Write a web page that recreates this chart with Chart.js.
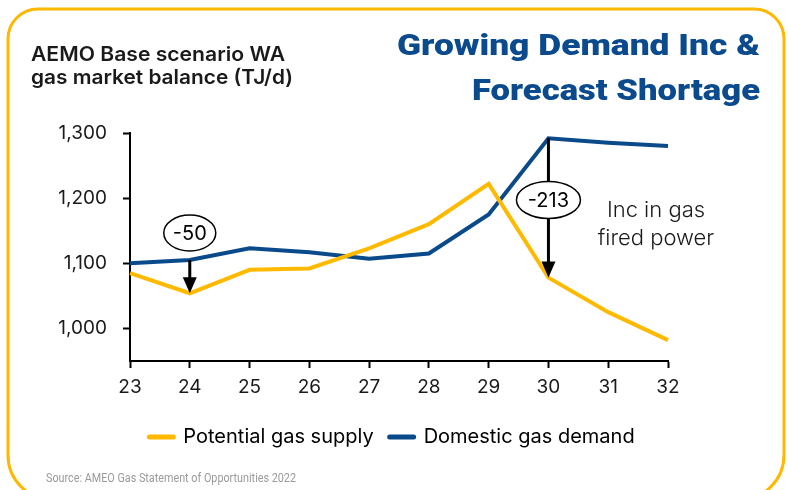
<!DOCTYPE html>
<html>
<head>
<meta charset="utf-8">
<script src="https://cdn.jsdelivr.net/npm/chart.js@4"></script>
<style>
  html,body{margin:0;padding:0;background:#fff;}
  #wrap{width:788px;height:490px;}
</style>
</head>
<body>
<div id="wrap"><canvas id="c" width="788" height="490"></canvas></div>
<script>
// valores (TJ/d)
const years = ['23','24','25','26','27','28','29','30','31','32'];
const supply = [1085,1054,1090,1092,1123,1160,1222,1078,1025,982];
const demand = [1100,1105,1123,1117,1107,1115,1175,1292,1285,1280];
const yTicks = [1000,1100,1200,1300];
const seriesNames = ['Potential gas supply','Domestic gas demand'];
const gapLabels = ['-50','-213'];
const gapAt = [1,7];

const YELLOW = '#FFBA00';
const BLUE = '#0A4A8A';
const TXT = '#1a1a1a';

// dibuja texto estirado/comprimido al ancho medido en la imagen
function fitText(ctx, t, x, y, w, font, align){
  ctx.save();
  ctx.font = font;
  const m = ctx.measureText(t).width;
  ctx.translate(x, y);
  ctx.scale(w / m, 1);
  ctx.textAlign = align;
  ctx.fillText(t, 0, 0);
  ctx.restore();
}

const deco = {
  id: 'deco',
  afterLayout(chart){
    // la leyenda original esta un poco a la izquierda del centro del area
    chart.legend.left -= 7;
    chart.legend.right -= 7;
  },
  beforeDraw(chart){
    const ctx = chart.ctx;
    ctx.save();
    ctx.fillStyle = '#fff';
    ctx.fillRect(0, 0, chart.width, chart.height);
    ctx.strokeStyle = '#FFB800';
    ctx.lineWidth = 3;
    ctx.beginPath();
    ctx.roundRect(8, 9, 776, 491, [30, 30, 45, 45]);
    ctx.stroke();

    ctx.textBaseline = 'alphabetic';
    ctx.fillStyle = TXT;
    fitText(ctx, 'AEMO Base scenario WA', 31, 61, 254, '600 20px Inter', 'left');
    fitText(ctx, 'gas market balance (TJ/d)', 31, 84, 262, '600 20px Inter', 'left');

    ctx.fillStyle = '#0B4A8C';
    fitText(ctx, 'Growing Demand Inc &', 760, 55, 363, '900 30px Roboto', 'right');
    fitText(ctx, 'Forecast Shortage', 760, 100, 288, '900 30px Roboto', 'right');

    ctx.fillStyle = '#9a9a9a';
    fitText(ctx, 'Source: AMEO Gas Statement of Opportunities 2022', 46, 482, 250, '12px Roboto', 'left');
    ctx.restore();
  },
  afterDatasetsDraw(chart){
    const ctx = chart.ctx;
    const xs = chart.scales.x, ys = chart.scales.y;
    // posicion de las etiquetas ovaladas respecto a la flecha
    const bubble = [{dy: -27, rx: 26, ry: 18}, {dy: 'mid', rx: 32, ry: 18.5}];
    ctx.save();
    gapAt.forEach((i, k) => {
      const x = xs.getPixelForValue(i);
      const y0 = ys.getPixelForValue(demand[i]);
      const y1 = ys.getPixelForValue(supply[i]);
      ctx.strokeStyle = '#000';
      ctx.lineWidth = 3;
      ctx.beginPath();
      ctx.moveTo(x, y0);
      ctx.lineTo(x, y1 - 14);
      ctx.stroke();
      ctx.fillStyle = '#000';
      ctx.beginPath();
      ctx.moveTo(x - 7, y1 - 16);
      ctx.lineTo(x + 7, y1 - 16);
      ctx.lineTo(x, y1);
      ctx.closePath();
      ctx.fill();

      const b = bubble[k];
      const cy = b.dy === 'mid' ? (y0 + y1) / 2 - 8 : y0 + b.dy;
      ctx.beginPath();
      ctx.ellipse(x, cy, b.rx, b.ry, 0, 0, Math.PI * 2);
      ctx.fillStyle = '#fff';
      ctx.fill();
      ctx.lineWidth = 1.5;
      ctx.stroke();
      ctx.fillStyle = '#000';
      ctx.font = '20px Inter';
      ctx.textAlign = 'center';
      ctx.textBaseline = 'middle';
      ctx.fillText(gapLabels[k], x, cy + 1);
    });

    ctx.fillStyle = TXT;
    ctx.font = '300 22px Inter';
    ctx.textAlign = 'center';
    ctx.textBaseline = 'middle';
    ctx.fillText('Inc in gas', 656, 210);
    ctx.fillText('fired power', 656, 238);
    ctx.restore();
  }
};

const tickFont = {family: 'Inter', size: 19};

new Chart(document.getElementById('c'), {
  type: 'line',
  data: {
    labels: years,
    datasets: [
      {label: seriesNames[0], data: supply, borderColor: YELLOW, backgroundColor: YELLOW, borderWidth: 4, pointRadius: 0, tension: 0},
      {label: seriesNames[1], data: demand, borderColor: BLUE, backgroundColor: BLUE, borderWidth: 4, pointRadius: 0, tension: 0}
    ]
  },
  options: {
    responsive: false,
    animation: false,
    layout: {padding: {left: 20, right: 120, top: 133, bottom: 33}},
    plugins: {
      tooltip: {enabled: false},
      legend: {
        position: 'bottom',
        fullSize: false,
        labels: {
          usePointStyle: true,
          pointStyleWidth: 24,
          boxHeight: 20,
          padding: 16,
          color: TXT,
          font: {family: 'Inter', size: 20},
          generateLabels(chart){
            return chart.data.datasets.map((d, i) => ({
              text: d.label, strokeStyle: d.borderColor, fillStyle: d.borderColor,
              lineWidth: 5, lineCap: 'round', pointStyle: 'line', hidden: false, datasetIndex: i
            }));
          }
        }
      }
    },
    scales: {
      x: {
        offset: false,
        grid: {drawOnChartArea: false, color: '#000', tickLength: 7, tickWidth: 2},
        border: {color: '#000', width: 2},
        ticks: {color: TXT, font: tickFont, padding: 8, maxRotation: 0, autoSkip: false},
        afterFit(s){ s.height = 50; }
      },
      y: {
        min: 950,
        max: 1300,
        afterBuildTicks(s){ s.ticks = yTicks.map(v => ({value: v})); },
        grid: {drawOnChartArea: false, color: '#000', tickLength: 7, tickWidth: 2},
        border: {color: '#000', width: 2},
        ticks: {color: TXT, font: tickFont, padding: 16, callback: v => v.toLocaleString('en-US')},
        afterFit(s){ s.width = 110; }
      }
    }
  },
  plugins: [deco]
});
</script>
</body>
</html>
